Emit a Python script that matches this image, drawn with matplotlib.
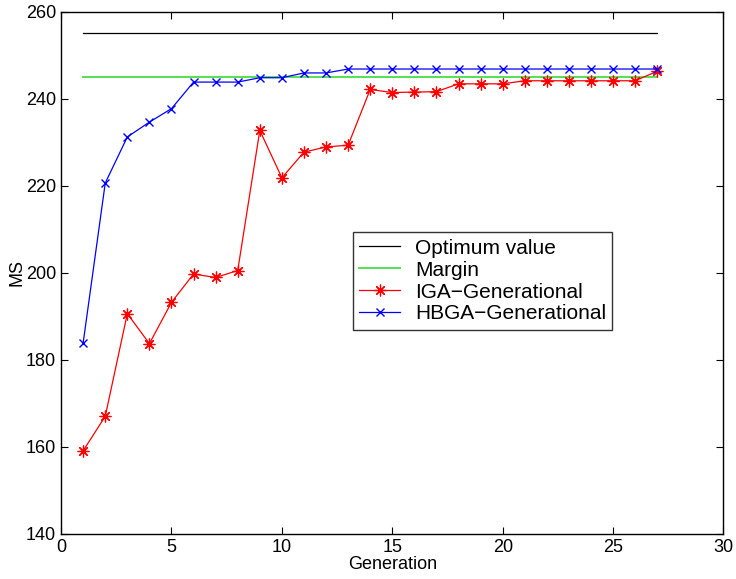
import matplotlib
matplotlib.use("Agg")
import matplotlib.pyplot as plt

plt.rcParams['font.family'] = ['Liberation Sans', 'DejaVu Sans']

# Data
generations = list(range(1, 28))
optimum = [255] * 27
margin = [245] * 27
iga = [159.1, 167.0, 190.6, 183.7, 193.2, 199.7, 198.9, 200.5, 232.7, 221.8,
       227.7, 228.9, 229.3, 242.1, 241.4, 241.5, 241.6, 243.4, 243.4, 243.4,
       244.1, 244.1, 244.1, 244.1, 244.1, 244.1, 246.3]
hbga = [183.9, 220.6, 231.2, 234.6, 237.7, 243.8, 243.8, 243.8, 244.8, 244.8,
        245.9, 245.9, 246.8, 246.8, 246.8, 246.8, 246.8, 246.8, 246.8, 246.8,
        246.8, 246.8, 246.8, 246.8, 246.8, 246.8, 246.8]
xticks = [0, 5, 10, 15, 20, 25, 30]
yticks = [140, 160, 180, 200, 220, 240, 260]

fig = plt.figure(figsize=(7.36, 5.79), dpi=100)
ax = fig.add_axes([0.083, 0.078, 0.9, 0.902])

ax.plot(generations, optimum, color='black', lw=0.9, label='Optimum value')
ax.plot(generations, margin, color='#55e055', lw=1.4, label='Margin')
ax.plot(generations, iga, color='red', lw=0.9, marker=(8, 2, 0), markersize=8.5,
        markeredgewidth=0.9, label='IGA\u2212Generational')
ax.plot(generations, hbga, color='blue', lw=0.9, marker='x', markersize=5.5,
        markeredgewidth=1.0, label='HBGA\u2212Generational')

ax.set_xlim(0, 30)
ax.set_ylim(140, 260)
ax.set_xticks(xticks)
ax.set_yticks(yticks)
ax.tick_params(direction='in', length=5, top=True, right=True, labelsize=13)
for s in ax.spines.values():
    s.set_linewidth(1.0)

ax.set_xlabel('Generation', fontsize=13, labelpad=0)
ax.set_ylabel('MS', fontsize=13, labelpad=0)

leg = ax.legend(loc='upper left', bbox_to_anchor=(0.44, 0.577), fontsize=15,
                frameon=True, fancybox=False, edgecolor='black',
                borderaxespad=0, handlelength=2.0, handletextpad=0.7,
                labelspacing=0.14, borderpad=0.3)
leg.get_frame().set_linewidth(1.0)

fig.savefig('out.png', dpi=100)
